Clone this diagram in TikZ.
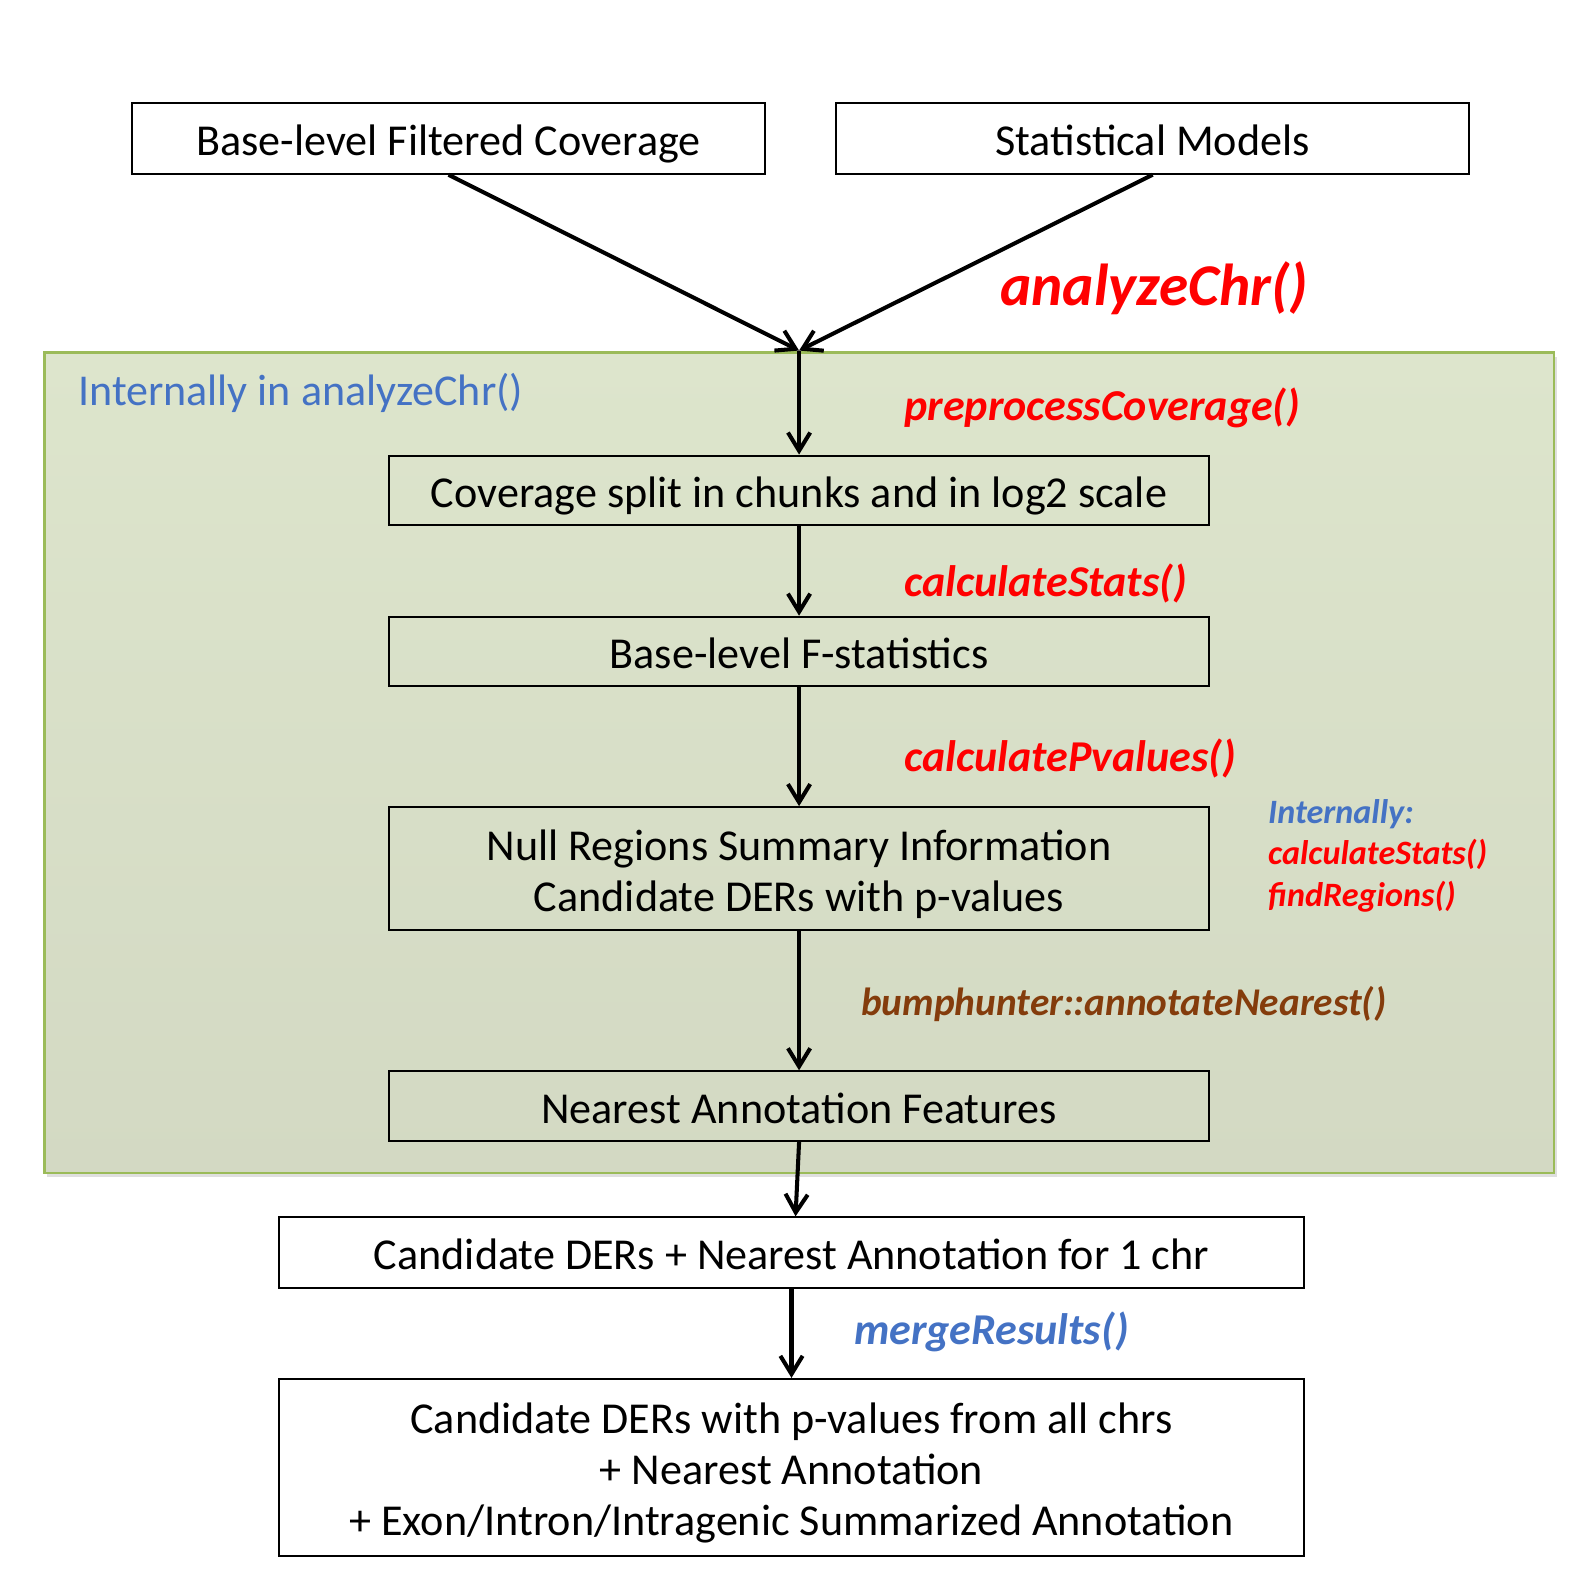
\documentclass[tikz,border=0pt]{standalone}
\usepackage{fontspec}
\setmainfont{Carlito}
\usetikzlibrary{arrows.meta,shadows}
\definecolor{panelborder}{HTML}{9BBB59}
\definecolor{paneltop}{HTML}{DDE5CC}
\definecolor{panelbot}{HTML}{D3D9C3}
\definecolor{fnred}{HTML}{FF0000}
\definecolor{fnblue}{HTML}{4472C4}
\definecolor{fnbrown}{HTML}{843C0C}
\newcommand{\lowtext}[1]{\raisebox{-3.5pt}[\height][\depth]{\begin{tabular}{@{}c@{}}#1\end{tabular}}}
\tikzset{
  stepbox/.style={draw=black, line width=1pt, align=center, inner sep=0pt,
    font=\fontsize{21.85}{25.3}\selectfont},
  wide/.style={minimum width=313pt, minimum height=35pt},
  mid/.style={minimum width=406pt, minimum height=34.5pt},
  big/.style={minimum width=507.5pt, minimum height=35pt},
  flow/.style={line width=2pt, -{Straight Barb[length=9pt,width=11pt,line width=2pt]}},
  fnlabel/.style={font=\fontsize{21.8}{25.5}\selectfont\bfseries\itshape, text=fnred, anchor=west, inner sep=0pt},
  smalllabel/.style={font=\fontsize{16.9}{20.5}\selectfont\bfseries\itshape, anchor=west, inner sep=0pt, align=left},
}
\begin{document}
\begin{tikzpicture}[x=0.5pt,y=-0.5pt]
% background panel
\node[draw=panelborder, line width=1.2pt, top color=paneltop, bottom color=panelbot,
  minimum width=747pt, minimum height=406pt, inner sep=0pt,
  drop shadow={opacity=0.25, shadow xshift=1.5pt, shadow yshift=-2pt}] (panel) at (791,755) {};
\node[font=\fontsize{21.8}{25.5}\selectfont, text=fnblue, anchor=west, inner sep=0pt] (inlabel) at (77,389) {Internally in analyzeChr()};

% boxes
\node[stepbox, wide, fill=white] (cov) at (444,137) {\lowtext{Base-level Filtered Coverage}};
\node[stepbox, wide, fill=white] (models) at (1141,137) {\lowtext{Statistical Models}};
\node[stepbox, mid] (chunks) at (791,485.5) {\lowtext{Coverage split in chunks and in log2 scale}};
\node[stepbox, mid] (fstat) at (791,645) {\lowtext{Base-level F-statistics}};
\node[stepbox, mid, minimum height=61pt] (nullreg) at (791,860) {\lowtext{Null Regions Summary Information\\Candidate DERs with p-values}};
\node[stepbox, mid] (nearest) at (791,1095) {\lowtext{Nearest Annotation Features}};
\node[stepbox, big, fill=white] (onechr) at (783.5,1240) {\lowtext{Candidate DERs + Nearest Annotation for 1 chr}};
\node[stepbox, big, minimum height=87.5pt, fill=white] (allchr) at (783.5,1452.5) {\lowtext{Candidate DERs with p-values from all chrs\\+ Nearest Annotation\\+ Exon/Intron/Intragenic Summarized Annotation}};

% connectors
\coordinate (merge) at (791,347);
\draw[flow] (cov.south) -- (merge);
\draw[flow] (models.south) -- (merge);
\draw[flow] (merge) -- (chunks.north);
\draw[flow] (chunks.south) -- (fstat.north);
\draw[flow] (fstat.south) -- (nullreg.north);
\draw[flow] (nullreg.south) -- (nearest.north);
\draw[flow] (nearest.south) -- ([xshift=2pt]onechr.north);
\draw[flow] (onechr.south) -- (allchr.north);

% function labels
\node[font=\fontsize{29.3}{34}\selectfont\bfseries\itshape, text=fnred, anchor=west, inner sep=0pt] (lanalyze) at (990,285) {analyzeChr()};
\node[fnlabel] (lpre) at (895,404) {preprocessCoverage()};
\node[fnlabel] (lstats) at (895,578) {calculateStats()};
\node[fnlabel] (lpval) at (895,751) {calculatePvalues()};
\node[fnlabel, text=fnbrown, font=\fontsize{19.45}{23}\selectfont\bfseries\itshape] (lbump) at (852,994) {bumphunter::annotateNearest()};
\node[fnlabel, text=fnblue] (lmerge) at (845,1318) {mergeResults()};
\node[smalllabel] (linternal) at (1255,847) {\textcolor{fnblue}{Internally:}\\\textcolor{fnred}{calculateStats()}\\\textcolor{fnred}{findRegions()}};

\pgfresetboundingbox
\path[use as bounding box] (0,0) rectangle (1568,1568);
\end{tikzpicture}
\end{document}
